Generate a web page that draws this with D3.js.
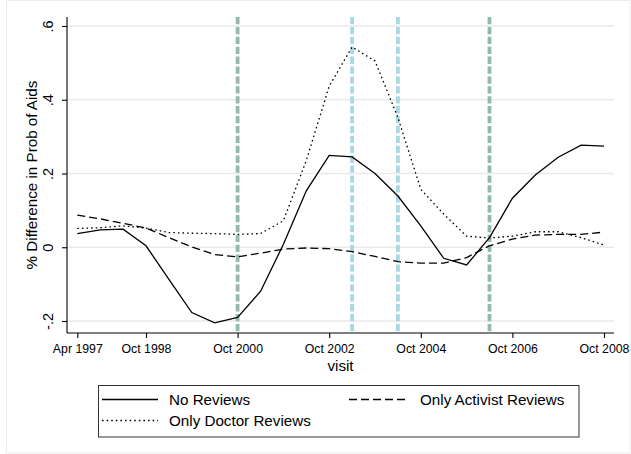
<!DOCTYPE html>
<html>
<head>
<meta charset="utf-8">
<script src="https://cdn.jsdelivr.net/npm/d3@7/dist/d3.min.js"></script>
<style>
  html, body { margin: 0; padding: 0; background: #fff; }
  svg { display: block; font-family: "Liberation Sans", Arial, Helvetica, sans-serif; }
</style>
</head>
<body>
<svg id="chart" width="631" height="454"></svg>
<script>
// visits: semiannual waves, Apr 1997 (index 0) .. Oct 2008 (index 23)
const visitIndex = d3.range(24);
const tickIndex = [0, 3, 7, 11, 15, 19, 23];
const tickLabels = ["Apr 1997", "Oct 1998", "Oct 2000", "Oct 2002", "Oct 2004", "Oct 2006", "Oct 2008"];
const yTicks = [-0.2, 0, 0.2, 0.4, 0.6];
const yTickLabels = ["-.2", "0", ".2", ".4", ".6"];

const noReviews = [0.037, 0.047, 0.049, 0.004, -0.087, -0.177, -0.205, -0.19, -0.12, 0.008, 0.153, 0.249,
                   0.245, 0.2, 0.139, 0.058, -0.03, -0.048, 0.026, 0.133, 0.196, 0.244, 0.277, 0.274];
const onlyActivist = [0.087, 0.077, 0.065, 0.052, 0.026, 0.001, -0.02, -0.026, -0.016, -0.005, -0.002, -0.004,
                      -0.012, -0.025, -0.039, -0.043, -0.043, -0.028, 0.004, 0.022, 0.033, 0.035, 0.035, 0.041];
const onlyDoctor = [0.051, 0.053, 0.058, 0.052, 0.04, 0.038, 0.037, 0.035, 0.037, 0.072, 0.235, 0.437,
                    0.543, 0.505, 0.352, 0.157, 0.09, 0.03, 0.025, 0.03, 0.042, 0.042, 0.026, 0.006];

// reference (vertical) lines
const refIndex = [7, 12, 14, 18];
const refType = ["green", "blue", "blue", "green"];

const seriesNames = ["No Reviews", "Only Activist Reviews", "Only Doctor Reviews"];

const svg = d3.select("#chart");
const W = 631, H = 454;

// outer frame
svg.append("rect").attr("x", 6.5).attr("y", 0.5).attr("width", 623.5).attr("height", 452.5)
  .attr("fill", "#fff").attr("stroke", "#ececec").attr("stroke-width", 1);

const plot = { left: 67, right: 614, top: 17, bottom: 333 };
const x = d3.scaleLinear().domain([0, 23]).range([77.3, 604]);
const y = d3.scaleLinear().domain([-0.2, 0.6]).range([321, 26]);

// gridlines
svg.append("g").selectAll("line").data(yTicks).join("line")
  .attr("x1", plot.left).attr("x2", plot.right)
  .attr("y1", d => y(d)).attr("y2", d => y(d))
  .attr("stroke", "#e9e9e9").attr("stroke-width", 1.4);

// reference lines
const refColor = { green: "#94b9ad", blue: "#a9d8e5" };
svg.append("g").selectAll("line").data(refIndex).join("line")
  .attr("x1", d => x(d)).attr("x2", d => x(d))
  .attr("y1", plot.top).attr("y2", plot.bottom)
  .attr("stroke", (d, i) => refColor[refType[i]])
  .attr("stroke-width", 3.8)
  .attr("stroke-dasharray", "7.3,2.6");

// axes
const xAxis = d3.axisBottom(x).tickValues(tickIndex).tickFormat((d, i) => tickLabels[i]).tickSize(5).tickSizeOuter(0);
const gx = svg.append("g").attr("transform", `translate(0,${plot.bottom})`).call(xAxis);
gx.select(".domain").remove();
gx.append("line").attr("x1", plot.left).attr("x2", plot.right).attr("y1", 0).attr("y2", 0)
  .attr("stroke", "#000").attr("stroke-width", 1.1);
gx.selectAll(".tick line").attr("stroke", "#000").attr("stroke-width", 1.1);
gx.selectAll(".tick text").attr("y", 20).attr("dy", 0).attr("font-size", 12.3).attr("fill", "#000")
  .attr("font-family", "'Liberation Sans', Arial, sans-serif");

const yAxis = d3.axisLeft(y).tickValues(yTicks).tickFormat((d, i) => yTickLabels[i]).tickSize(5).tickSizeOuter(0);
const gy = svg.append("g").attr("transform", `translate(${plot.left},0)`).call(yAxis);
gy.select(".domain").remove();
gy.append("line").attr("x1", 0).attr("x2", 0).attr("y1", plot.top).attr("y2", plot.bottom)
  .attr("stroke", "#000").attr("stroke-width", 1.1);
gy.selectAll(".tick line").attr("stroke", "#000").attr("stroke-width", 1.1);
gy.selectAll(".tick text")
  .attr("x", null).attr("dy", null)
  .attr("text-anchor", "middle")
  .attr("transform", "translate(-14,0) rotate(-90)")
  .attr("font-size", 14.5).attr("fill", "#000")
  .attr("font-family", "'Liberation Sans', Arial, sans-serif");

// axis titles
svg.append("text").attr("x", (plot.left + plot.right) / 2).attr("y", 371)
  .attr("text-anchor", "middle").attr("font-size", 15.2).text("visit");
svg.append("text").attr("transform", `translate(37,${(plot.top + plot.bottom) / 2}) rotate(-90)`)
  .attr("text-anchor", "middle").attr("font-size", 15.2).text("% Difference in Prob of Aids");

// series lines
const line = d3.line().x((d, i) => x(visitIndex[i])).y(d => y(d));
const styles = [
  { data: noReviews, dash: null },
  { data: onlyActivist, dash: "8,4" },
  { data: onlyDoctor, dash: "1.6,3" }
];
svg.append("g").selectAll("path").data(styles).join("path")
  .attr("d", d => line(d.data))
  .attr("fill", "none").attr("stroke", "#000").attr("stroke-width", 1.3)
  .attr("stroke-dasharray", d => d.dash);

// legend
const lg = svg.append("g");
lg.append("rect").attr("x", 98.5).attr("y", 385.5).attr("width", 480.5).attr("height", 51.5)
  .attr("fill", "#fff").attr("stroke", "#333").attr("stroke-width", 1);
const legendItems = [
  { name: seriesNames[0], dash: null, x0: 102, x1: 158, tx: 169, cy: 399.5 },
  { name: seriesNames[1], dash: "8,4", x0: 349, x1: 408, tx: 420, cy: 399.5 },
  { name: seriesNames[2], dash: "1.6,3", x0: 102, x1: 158, tx: 169, cy: 420.5 }
];
legendItems.forEach(it => {
  lg.append("line").attr("x1", it.x0).attr("x2", it.x1).attr("y1", it.cy).attr("y2", it.cy)
    .attr("stroke", "#000").attr("stroke-width", 1.3).attr("stroke-dasharray", it.dash);
  lg.append("text").attr("x", it.tx).attr("y", it.cy + 5.3).attr("font-size", 15.2).text(it.name);
});
</script>
</body>
</html>
